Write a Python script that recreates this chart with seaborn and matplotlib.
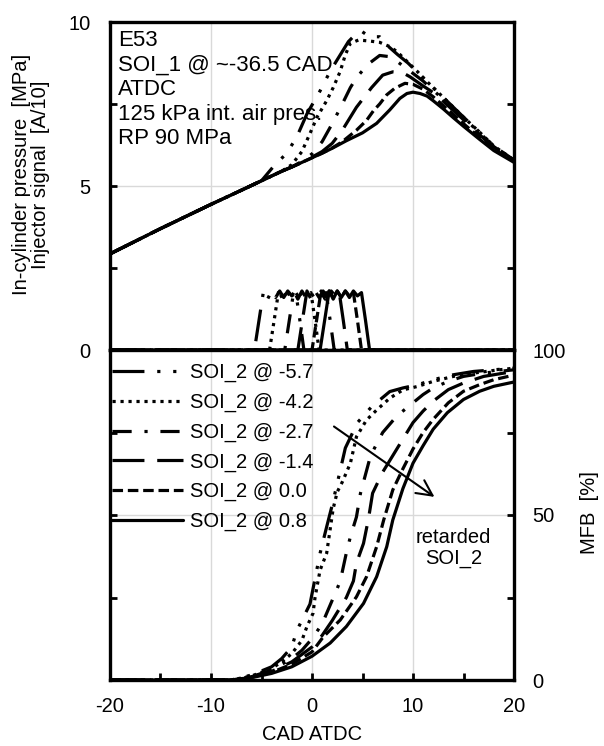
import numpy as np
import pandas as pd
import matplotlib
matplotlib.use("Agg")
import matplotlib.pyplot as plt
import seaborn as sns
from matplotlib.ticker import MultipleLocator

sns.set_theme(style="white")
plt.rcParams['font.family'] = ['Liberation Sans', 'DejaVu Sans']
plt.rcParams['axes.unicode_minus'] = False
plt.rcParams['text.color'] = 'black'
plt.rcParams['axes.labelcolor'] = 'black'
plt.rcParams['xtick.color'] = 'black'
plt.rcParams['ytick.color'] = 'black'

# ---------------- data ----------------
labels = ["SOI_2 @ -5.7", "SOI_2 @ -4.2", "SOI_2 @ -2.7",
          "SOI_2 @ -1.4", "SOI_2 @ 0.0", "SOI_2 @ 0.8"]
soi2 = [-5.7, -4.2, -2.7, -1.4, 0.0, 0.8]

# in-cylinder pressure [MPa]
p_x_m57 = [-20, -15, -10, -7, -5, -3.8, -2.5, -1.5, -0.5, 0.8, 1.8, 2.8, 3.6, 4.3, 4.9, 5.7, 6.7, 7.4, 8.5, 9.5, 10.5, 11.5, 12.5, 14, 15, 16.6, 18, 20]
p_y_m57 = [2.93, 3.7, 4.44, 4.87, 5.16, 5.6, 6.0, 6.5, 7.2, 7.9, 8.5, 9.0, 9.4, 9.62, 9.72, 9.55, 9.55, 9.3, 9.0, 8.75, 8.45, 8.15, 7.85, 7.4, 7.1, 6.64, 6.22, 5.79]
p_x_m42 = [-20, -15, -10, -7, -5, -3, -2, -1, -0.2, 0.5, 1.45, 2.1, 2.8, 3.3, 3.8, 4.6, 5.7, 6.7, 7.7, 8.4, 9.4, 10.4, 11.5, 12.5, 14, 15, 16.6, 18, 20]
p_y_m42 = [2.93, 3.7, 4.44, 4.87, 5.16, 5.45, 5.65, 6.05, 6.6, 7.1, 7.6, 8.0, 8.5, 9.0, 9.35, 9.45, 9.42, 9.38, 9.25, 9.1, 8.8, 8.5, 8.15, 7.85, 7.4, 7.1, 6.64, 6.22, 5.79]
p_x_m27 = [-20, -15, -10, -7, -5, -3, -2, -1, 0, 1, 2, 3, 3.8, 4.4, 5.5, 6.7, 7.5, 8.5, 9.5, 11, 12, 13, 14, 15, 16.6, 18, 20]
p_y_m27 = [2.93, 3.7, 4.44, 4.87, 5.16, 5.45, 5.58, 5.75, 5.98, 6.35, 6.9, 7.5, 8.0, 8.3, 8.7, 8.98, 8.95, 8.78, 8.55, 8.2, 7.92, 7.64, 7.36, 7.08, 6.62, 6.2, 5.78]
p_x_m14 = [-20, -15, -10, -7, -5, -3, -2, -1, 0, 1, 2, 3, 4.4, 5.9, 7.0, 8.0, 9.0, 9.7, 11, 12, 13, 14, 15, 16.6, 18, 20]
p_y_m14 = [2.93, 3.7, 4.44, 4.87, 5.16, 5.45, 5.58, 5.72, 5.88, 6.05, 6.3, 6.7, 7.4, 8.0, 8.38, 8.48, 8.45, 8.33, 8.05, 7.85, 7.58, 7.3, 7.02, 6.56, 6.18, 5.77]
p_x_00 = [-20, -15, -10, -7, -5, -3, -2, -1, 0, 1, 2, 3, 4.4, 5.4, 6.1, 6.7, 7.4, 8.2, 9.2, 10, 11, 12, 13, 14, 15, 16.6, 18, 20]
p_y_00 = [2.93, 3.7, 4.44, 4.87, 5.16, 5.45, 5.58, 5.72, 5.86, 6.0, 6.16, 6.35, 6.7, 7.0, 7.3, 7.5, 7.78, 7.98, 8.13, 8.1, 7.95, 7.72, 7.45, 7.18, 6.9, 6.48, 6.12, 5.75]
p_x_08 = [-20, -15, -10, -7, -5, -3, -2, -1, 0, 1, 2, 3.4, 5, 6.4, 7.7, 8.7, 9.4, 10, 10.7, 11.4, 12, 13, 14, 15, 16.6, 18, 20]
p_y_08 = [2.93, 3.7, 4.44, 4.87, 5.16, 5.45, 5.58, 5.72, 5.86, 6.0, 6.15, 6.38, 6.62, 6.91, 7.32, 7.67, 7.82, 7.86, 7.82, 7.74, 7.6, 7.35, 7.08, 6.82, 6.42, 6.08, 5.72]

# injector signal [A/10]: pulse shape measured from each SOI_2
inj_dx = [0, 0.5, 0.9, 1.3, 1.7, 2.1, 2.5, 2.9, 3.3, 3.7, 4.1, 4.5, 4.9]
inj_y = [0, 1.0, 1.8, 1.55, 1.8, 1.6, 1.8, 1.6, 1.8, 1.65, 1.75, 0.9, 0]

# mass fraction burned [%]
m_x_m57 = [-20, -8, -6, -4, -3, -2, -1.5, -0.2, 0.8, 1.45, 2.0, 2.8, 3.3, 4.5, 5.9, 7.7, 9, 10.5, 12, 14, 16, 18, 20]
m_y_m57 = [0, 0, 1.5, 4, 6.5, 10, 15, 23, 38.4, 46.4, 53, 63.6, 70.3, 78, 82.8, 87.4, 88.5, 89.5, 91, 92.5, 93.5, 94, 94.5]
m_x_m42 = [-20, -8, -6, -4, -3, -2, -1, -0.5, 0.1, 0.3, 0.8, 1.45, 2.1, 2.5, 3.0, 3.8, 4.4, 5.4, 6.4, 7.7, 9.0, 10.5, 12, 14, 16, 18, 20]
m_y_m42 = [0, 0, 1.2, 3.5, 5.5, 8, 12, 16.2, 20.2, 25, 33.3, 38.4, 52, 57, 60, 65.7, 73.7, 78.8, 81.8, 85.4, 87.9, 89, 90.5, 92, 93, 93.8, 94.5]
m_x_m27 = [-20, -8, -6, -4, -2, -1, 0, 1, 2.4, 2.8, 3.4, 3.8, 4.4, 4.8, 5.8, 7, 8.4, 9.2, 10, 11, 12, 13.5, 15, 17, 20]
m_y_m27 = [0, 0, 1, 3, 6.5, 9, 12.5, 17, 27, 30, 38.5, 43.4, 49.4, 56.6, 68, 75, 80, 82, 84, 86.5, 88.5, 90.5, 92, 93, 94]
m_x_m14 = [-20, -8, -6, -4, -2, 0, 1, 2, 3.4, 4.1, 4.4, 5.1, 5.6, 6.0, 7, 8, 9, 10, 11, 12, 13.5, 15, 17, 20]
m_y_m14 = [0, 0, 1, 2.6, 5.5, 10, 13.5, 18, 25, 30, 35.4, 41.4, 49, 56.6, 63, 68, 73, 78, 81.5, 84.5, 88, 90, 92, 93.5]
m_x_00 = [-20, -8, -6, -4, -2, 0, 1.1, 2.8, 4.4, 5.4, 6.4, 7.1, 8.0, 9, 10, 11, 12, 13.5, 15, 16.6, 18, 20]
m_y_00 = [0, 0, 0.8, 2.3, 4.8, 8.5, 13, 18.2, 25.2, 31.3, 40.4, 48.5, 57.6, 64, 70, 75, 79, 84, 87.5, 89.5, 91, 92.4]
m_x_08 = [-20, -8, -6, -4, -2, 0, 1.8, 3.4, 5.1, 6.4, 7.4, 8.0, 9.0, 10, 11, 12, 13.4, 15, 16.6, 18, 20]
m_y_08 = [0, 0, 0.7, 2.0, 4.0, 7.2, 11.2, 16.2, 23.2, 31.3, 40.4, 48.5, 58, 65.7, 71, 76, 81, 85, 87.5, 89, 90.3]

p_x = [p_x_m57, p_x_m42, p_x_m27, p_x_m14, p_x_00, p_x_08]
p_y = [p_y_m57, p_y_m42, p_y_m27, p_y_m14, p_y_00, p_y_08]
m_x = [m_x_m57, m_x_m42, m_x_m27, m_x_m14, m_x_00, m_x_08]
m_y = [m_y_m57, m_y_m42, m_y_m27, m_y_m14, m_y_00, m_y_08]

styles = [(0, (10, 4, 1, 4, 1, 4)),
          (0, (1, 1.5)),
          (0, (6, 4, 1, 4)),
          (0, (10, 4)),
          (0, (3.3, 1.5)),
          '-']

# ---------------- figure ----------------
fig = plt.figure(figsize=(6.04, 7.46), dpi=100)
L, W = 110 / 604, 404 / 604
ax1 = fig.add_axes([L, 1 - 350 / 746, W, 328 / 746])
ax2 = fig.add_axes([L, 1 - 680 / 746, W, 330 / 746])

LW = 2.3
FS = 14.5
for i in range(6):
    df_p = pd.DataFrame({"x": p_x[i], "y": p_y[i]})
    sns.lineplot(data=df_p, x="x", y="y", ax=ax1, color="black", lw=LW,
                 linestyle=styles[i], estimator=None, sort=False)
    ix = [-20] + [soi2[i] + d for d in inj_dx] + [20]
    iy = [0] + inj_y + [0]
    df_i = pd.DataFrame({"x": ix, "y": iy})
    sns.lineplot(data=df_i, x="x", y="y", ax=ax1, color="black", lw=LW,
                 linestyle=styles[i], estimator=None, sort=False)
    df_m = pd.DataFrame({"x": m_x[i], "y": m_y[i]})
    sns.lineplot(data=df_m, x="x", y="y", ax=ax2, color="black", lw=LW,
                 linestyle=styles[i], estimator=None, sort=False, label=labels[i])

for ax in (ax1, ax2):
    ax.set_xlim(-20, 20)
    ax.set_xlabel("")
    ax.set_ylabel("")
    ax.xaxis.set_major_locator(MultipleLocator(10))
    ax.xaxis.set_minor_locator(MultipleLocator(5))
    ax.grid(True, which="major", color="#d9d9d9", lw=1.0)
    ax.set_axisbelow(True)
    for s in ax.spines.values():
        s.set_visible(True)
        s.set_color("black")
        s.set_linewidth(2.4)
    ax.tick_params(which="both", direction="in", length=5, width=2, color="black",
                   labelsize=FS, labelcolor="black")

ax1.set_ylim(0, 10)
ax1.yaxis.set_major_locator(MultipleLocator(5))
ax1.yaxis.set_minor_locator(MultipleLocator(2.5))
ax1.tick_params(axis="x", which="both", bottom=False, top=False, labelbottom=False)
ax1.tick_params(axis="y", which="both", left=True, right=True, labelleft=True, pad=14)

ax2.set_ylim(0, 100)
ax2.yaxis.set_major_locator(MultipleLocator(50))
ax2.yaxis.set_minor_locator(MultipleLocator(25))
ax2.tick_params(axis="x", which="both", bottom=True, top=False, labelbottom=True, pad=12)
ax2.tick_params(axis="y", which="both", left=True, right=True, labelleft=False,
                labelright=True, pad=13)

# labels
ax1.text(-0.195, 0.535, "In-cylinder pressure  [MPa]\nInjector signal  [A/10]",
         transform=ax1.transAxes, rotation=90, ha="center", va="center",
         fontsize=FS, linespacing=1.0)
ax2.text(1.188, 0.506, "MFB  [%]", transform=ax2.transAxes, rotation=90,
         ha="center", va="center", fontsize=FS)
fig.text(312 / 604, 1 - 735 / 746, "CAD ATDC", ha="center", va="center", fontsize=FS)

ax1.text(0.02, 0.975, "E53\nSOI_1 @ ~-36.5 CAD\nATDC\n125 kPa int. air pres.\nRP 90 MPa",
         transform=ax1.transAxes, ha="left", va="top", fontsize=16, linespacing=1.22)

ax2.annotate("", xy=(12.35, 55), xytext=(1.95, 77.3),
             arrowprops=dict(arrowstyle="->", color="black", lw=1.5, mutation_scale=28))
ax2.text(14, 40, "retarded\nSOI_2", ha="center", va="center", fontsize=FS, linespacing=1.1)

leg = ax2.legend(loc="upper left", bbox_to_anchor=(0.005, 0.96), frameon=False,
                 fontsize=FS, handlelength=3.5, handletextpad=0.35,
                 borderpad=0, borderaxespad=0, labelspacing=0.52)

fig.savefig("out.png", dpi=100)
